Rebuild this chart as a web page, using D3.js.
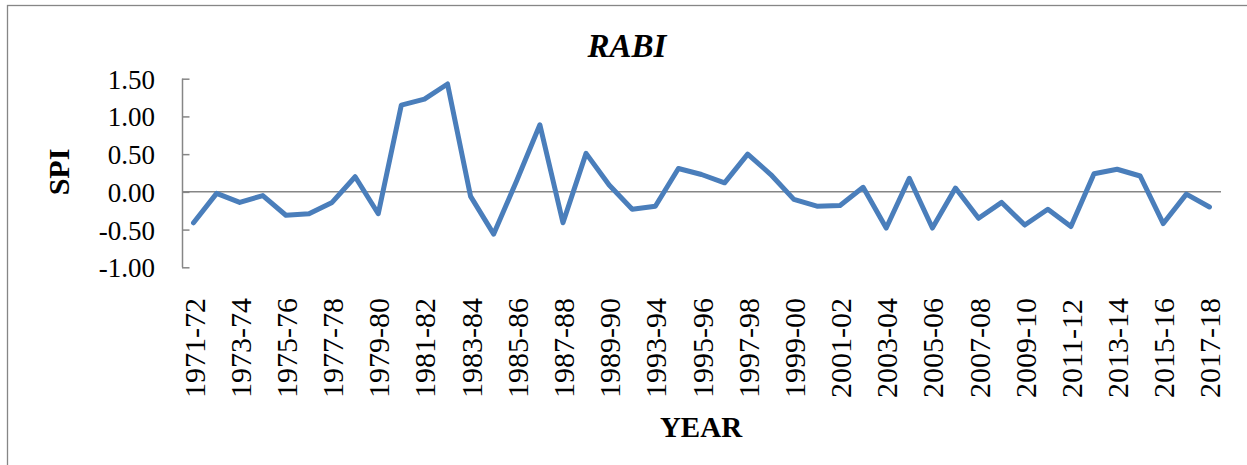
<!DOCTYPE html>
<html>
<head>
<meta charset="utf-8">
<script src="https://cdn.jsdelivr.net/npm/d3@7"></script>
<style>
  body { margin: 0; background: #fff; }
  svg { display: block; }
  text { font-family: "Liberation Serif", "Times New Roman", serif; fill: #000; }
</style>
</head>
<body>
<div class="chart"></div>
<script>
const years = [
  "1971-72", "1972-73", "1973-74", "1974-75", "1975-76", "1976-77", "1977-78",
  "1978-79", "1979-80", "1980-81", "1981-82", "1982-83", "1983-84", "1984-85",
  "1985-86", "1986-87", "1987-88", "1988-89", "1989-90", "1991-92", "1993-94",
  "1994-95", "1995-96", "1996-97", "1997-98", "1998-99", "1999-00", "2000-01",
  "2001-02", "2002-03", "2003-04", "2004-05", "2005-06", "2006-07", "2007-08",
  "2008-09", "2009-10", "2010-11", "2011-12", "2012-13", "2013-14", "2014-15",
  "2015-16", "2016-17", "2017-18"
];

const spi = [
  -0.41, -0.02, -0.14, -0.05, -0.31, -0.29, -0.14, 0.20, -0.29, 1.15,
  1.23, 1.43, -0.06, -0.56, 0.15, 0.89, -0.41, 0.51, 0.09, -0.23,
  -0.19, 0.31, 0.23, 0.12, 0.50, 0.23, -0.10, -0.19, -0.18, 0.06,
  -0.48, 0.18, -0.48, 0.05, -0.35, -0.14, -0.44, -0.23, -0.46, 0.24,
  0.30, 0.21, -0.42, -0.03, -0.20
];

const yTicks = [-1.0, -0.5, 0.0, 0.5, 1.0, 1.5];

const width = 1247;
const height = 465;
const plot = { left: 182, right: 1221, top: 78.7, bottom: 267.3 };
const axisColor = "#868686";
const lineColor = "#4A7EBB";
const serif = '"Liberation Serif", "Times New Roman", serif';

const svg = d3
  .select(".chart")
  .append("svg")
  .attr("width", width)
  .attr("height", height);

// outer chart border (right and bottom fall outside the picture)
svg
  .append("rect")
  .attr("x", 7.5)
  .attr("y", 5.5)
  .attr("width", width + 10)
  .attr("height", height + 10)
  .attr("fill", "none")
  .attr("stroke", axisColor)
  .attr("stroke-width", 1.3);

const x = d3
  .scalePoint()
  .domain(years)
  .range([plot.left, plot.right])
  .padding(0.5);

const y = d3
  .scaleLinear()
  .domain([-1, 1.5])
  .range([plot.bottom, plot.top]);

// y axis: ticks pointing inward
const yAxis = svg
  .append("g")
  .attr("transform", `translate(${plot.left},0)`)
  .call(
    d3.axisLeft(y)
      .tickValues(yTicks)
      .tickSize(-7.5)
      .tickFormat((d) => d.toFixed(2))
  );
yAxis.select(".domain").attr("stroke", axisColor).attr("stroke-width", 1.5)
  .attr("d", `M0.5,${plot.top}V${plot.bottom}`);
yAxis.selectAll(".tick line").attr("stroke", axisColor).attr("stroke-width", 1.5);
yAxis.selectAll(".tick text")
  .style("font-family", serif)
  .style("font-size", "27px")
  .attr("x", -27)
  .attr("dy", "0.35em");

// x axis along zero
const xAxis = svg
  .append("g")
  .attr("transform", `translate(0,${y(0)})`)
  .call(
    d3.axisBottom(x)
      .tickValues(years.filter((d, i) => i % 2 === 0))
      .tickSize(0)
  );
xAxis.select(".domain").attr("stroke", axisColor).attr("stroke-width", 1.5)
  .attr("d", `M${plot.left},0H${plot.right}`);
xAxis.selectAll(".tick text")
  .style("font-family", serif)
  .style("font-size", "30px")
  .attr("transform", `translate(0,${398 - y(0)}) rotate(-90)`)
  .attr("x", 0)
  .attr("y", 0)
  .attr("dy", "0.35em")
  .attr("text-anchor", "start");

// line
const line = d3
  .line()
  .x((d, i) => x(years[i]))
  .y((d) => y(d));

svg
  .append("path")
  .datum(spi)
  .attr("d", line)
  .attr("fill", "none")
  .attr("stroke", lineColor)
  .attr("stroke-width", 5)
  .attr("stroke-linejoin", "round")
  .attr("stroke-linecap", "round");

// titles
svg
  .append("text")
  .attr("x", 627)
  .attr("y", 57)
  .attr("text-anchor", "middle")
  .style("font-size", "33px")
  .attr("font-weight", "bold")
  .attr("font-style", "italic")
  .text("RABI");

svg
  .append("text")
  .attr("x", 701)
  .attr("y", 437)
  .attr("text-anchor", "middle")
  .style("font-size", "29px")
  .attr("font-weight", "bold")
  .text("YEAR");

svg
  .append("text")
  .attr("transform", `translate(69,172) rotate(-90)`)
  .attr("text-anchor", "middle")
  .style("font-size", "30px")
  .attr("font-weight", "bold")
  .text("SPI");
</script>
</body>
</html>
